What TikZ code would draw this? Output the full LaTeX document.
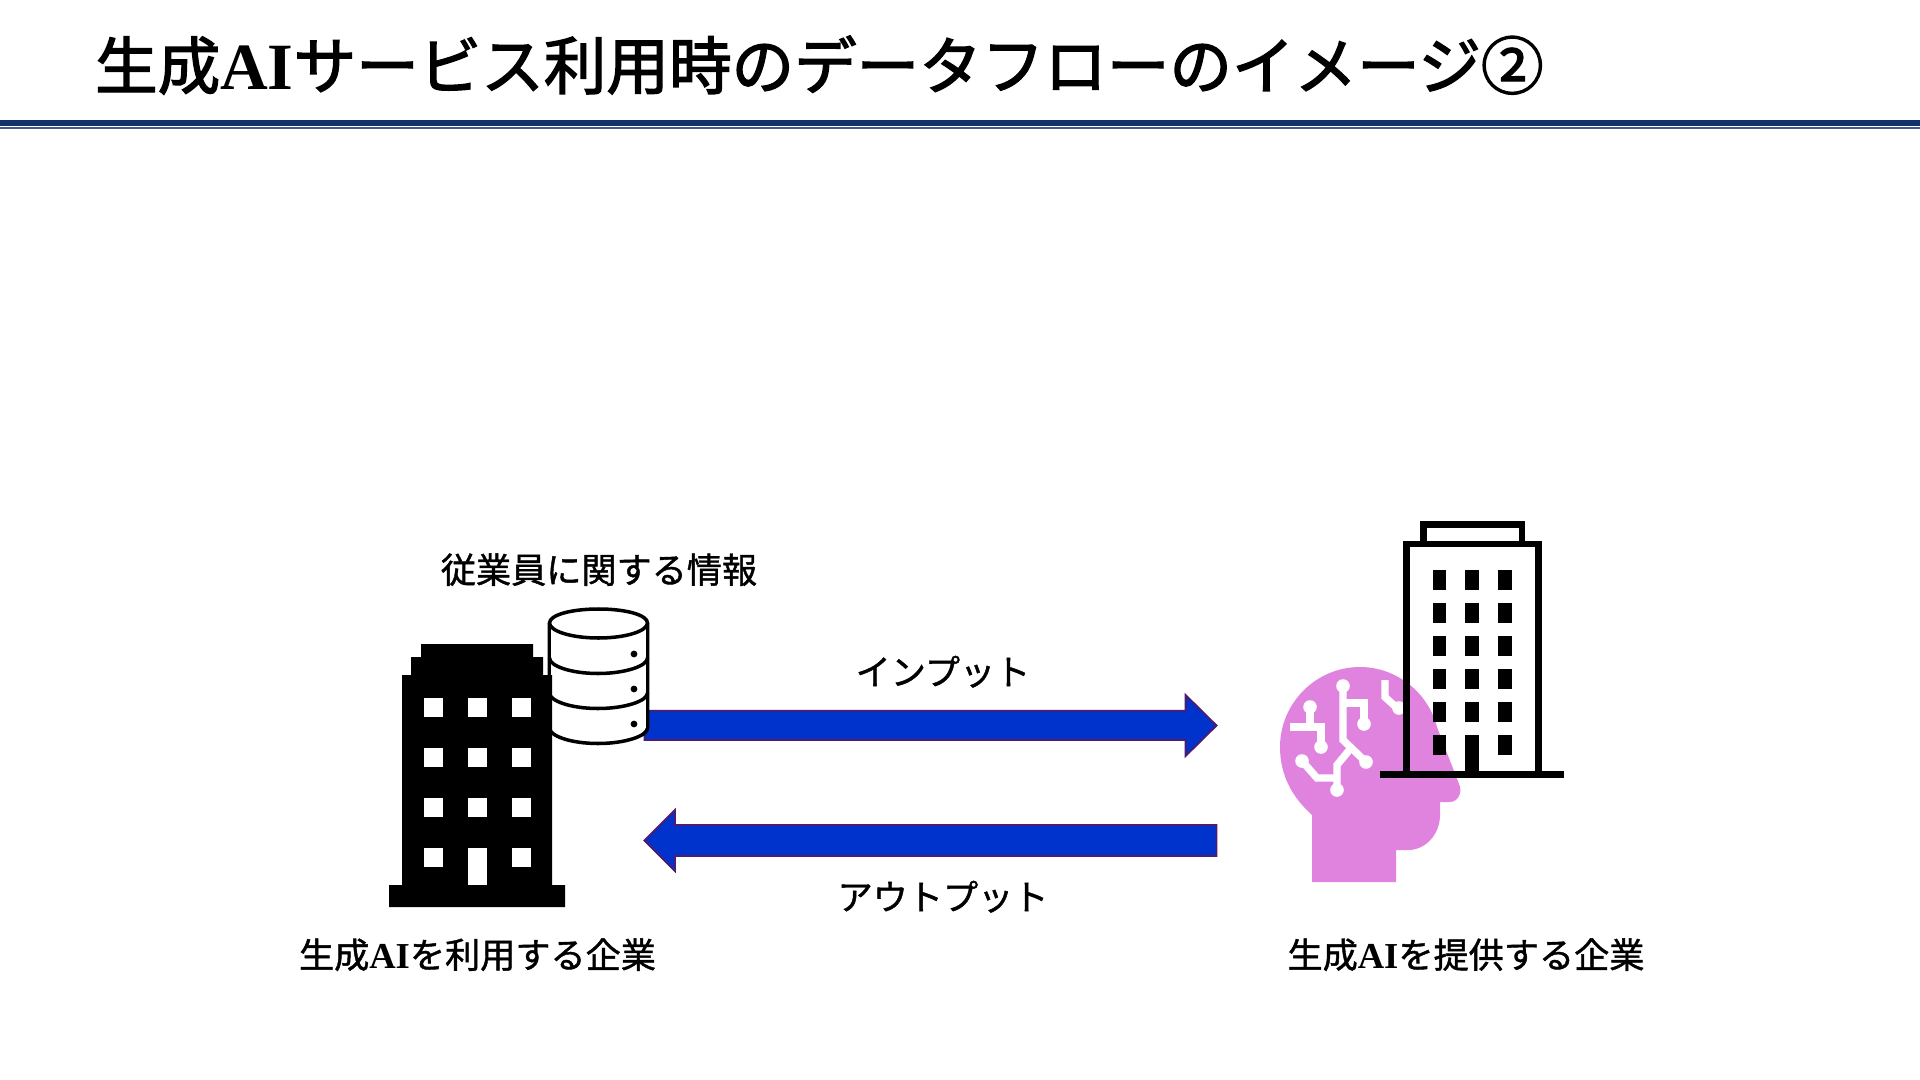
\documentclass[tikz,border=0pt]{standalone}
\usepackage{fontspec}
\setmainfont{Noto Sans CJK JP}[FakeBold=1.2]
\newfontfamily\titlefont{Noto Sans CJK JP}[FakeBold=2.2]
\newfontfamily\latinserif{Liberation Serif}
\tikzset{
  px/.style={x=0.05cm,y=-0.05cm},
  titletext/.style={inner sep=0,anchor=base west,font=\fontsize{89pt}{100pt}\selectfont\titlefont,text=black},
  labeltext/.style={inner sep=0,anchor=base,font=\fontsize{50pt}{60pt}\selectfont,text=black},
  bigarrow/.style={fill=arrowblue,draw=arrowedge,line width=2.6pt,line join=miter},
  darkicon/.style={fill=black,draw=none},
  dbline/.style={draw=black,fill=white,line width=5pt,line cap=round,line join=round},
  towerwall/.style={draw=black,line width=9.4pt,line join=miter},
  circuit/.style={draw=white,line width=10.5pt,line join=miter},
  circuitdot/.style={fill=white,draw=none},
}
\definecolor{arrowblue}{HTML}{0033CC}
\definecolor{arrowedge}{HTML}{4B1C72}
\definecolor{headpink}{HTML}{DF83DF}
\definecolor{rulenavy}{HTML}{12326E}
\begin{document}
\begin{tikzpicture}[px]
\useasboundingbox (0,0) rectangle (1920,1080);
\fill[white] (0,0) rectangle (1920,1080);
% title
\node[titletext] (title) at (95,89) {生成{\latinserif\bfseries\fontsize{94pt}{94pt}\selectfont AI}サービス利用時のデータフローのイメージ②};
\fill[rulenavy] (0,120.2) rectangle (1920,125.6);
\fill[rulenavy!80] (0,126.8) rectangle (1920,128.8);
% arrows
\draw[bigarrow] (644.5,710.7) -- (1185.6,710.7) -- (1185.6,695) -- (1216.5,725.5) -- (1185.6,756) -- (1185.6,740) -- (644.5,740) -- cycle;
\draw[bigarrow] (1216.5,825) -- (675,825) -- (675,810) -- (644.5,840.5) -- (675,871) -- (675,856) -- (1216.5,856) -- cycle;
% database
\begin{scope}
\draw[dbline] (549.5,623) -- (549.5,728) .. controls (549.5,736) and (571,743.5) .. (598,743.5) .. controls (625,743.5) and (647.5,736) .. (647.5,728) -- (647.5,623);
\fill[white] (549.5,623) rectangle (647.5,728);
\draw[dbline,fill=none] (549.5,623) -- (549.5,728) (647.5,623) -- (647.5,728);
\draw[dbline,fill=none] (549.5,693) .. controls (549.5,701) and (571,708.5) .. (598,708.5) .. controls (625,708.5) and (647.5,701) .. (647.5,693);
\draw[dbline,fill=none] (549.5,658) .. controls (549.5,666) and (571,673.5) .. (598,673.5) .. controls (625,673.5) and (647.5,666) .. (647.5,658);
\draw[dbline] (549.5,623) .. controls (549.5,615) and (571,609) .. (598.5,609) .. controls (626,609) and (647.5,615) .. (647.5,623) .. controls (647.5,631) and (626,638) .. (598.5,638) .. controls (571,638) and (549.5,631) .. (549.5,623) -- cycle;
\foreach \yy in {654,689,724} \fill[black] (634,\yy) circle[radius=3.4];
\end{scope}
% solid building
\fill[darkicon] (389,907) -- (565,907) -- (565,885) -- (552,885) -- (552,675) -- (543,675) -- (543,657) -- (533,657) -- (533,644) -- (421,644) -- (421,657) -- (411,657) -- (411,675) -- (402,675) -- (402,885) -- (389,885) -- cycle;
\foreach \xx in {424,468,512} \foreach \yy in {698,748,798} \fill[white] (\xx,\yy) rectangle ++(19,19);
\fill[white] (424,848) rectangle ++(19,19);
\fill[white] (512,848) rectangle ++(19,19);
\fill[white] (468,848) rectangle (487,885);
% head
\fill[headpink] (1312,882) -- (1396,882) -- (1396,850) -- (1408,850) .. controls (1426,850) and (1440,834) .. (1440,815) -- (1440,802) -- (1450,802) .. controls (1458,802) and (1463,792) .. (1459,784) -- (1437,727) .. controls (1428,692) and (1396,667) .. (1360,667) .. controls (1316,667) and (1280,703) .. (1280,747) .. controls (1280,775) and (1292,797) .. (1312,815) -- cycle;
% circuit
\draw[circuit] (1343,686) -- (1343,740) -- (1366,762);
\draw[circuit] (1343,703) -- (1364,703) -- (1364,724);
\draw[circuit] (1351,748) -- (1337,765) -- (1337,790);
\draw[circuit] (1302,761) -- (1317,778) -- (1337,778);
\draw[circuit] (1310,707) -- (1310,727);
\draw[circuit] (1290,727) -- (1321,727) -- (1321,747);
\draw[circuit] (1385,680) -- (1385,697) -- (1397,708);
\foreach \p in {(1343,686),(1366,762),(1364,724),(1337,790),(1302,761),(1310,707),(1321,747),(1399,708)} \fill[circuitdot] \p circle[radius=6.8];
% outlined tower
\draw[towerwall] (1406.7,774) -- (1406.7,544) -- (1538.4,544) -- (1538.4,774);
\draw[towerwall] (1423.2,541) -- (1423.2,524.3) -- (1521.8,524.3) -- (1521.8,541);
\draw[towerwall] (1380,774.3) -- (1564,774.3);
\foreach \xx in {1432.7,1465.3,1498.3} \foreach \yy in {570,603,636,669,702,735} \fill[black] (\xx,\yy) rectangle ++(13.5,20);
\fill[black] (1465.3,735) rectangle ++(13.5,38);
% labels
\node[labeltext] (dbtext) at (599,583) {従業員に関する情報};
\node[labeltext] (intext) at (943,685) {インプット};
\node[labeltext] (outtext) at (943,910) {アウトプット};
\node[labeltext] (usertext) at (477.5,968) {生成{\latinserif\bfseries\fontsize{52pt}{52pt}\selectfont AI}を利用する企業};
\node[labeltext] (provtext) at (1466,968) {生成{\latinserif\bfseries\fontsize{52pt}{52pt}\selectfont AI}を提供する企業};
\end{tikzpicture}
\end{document}
